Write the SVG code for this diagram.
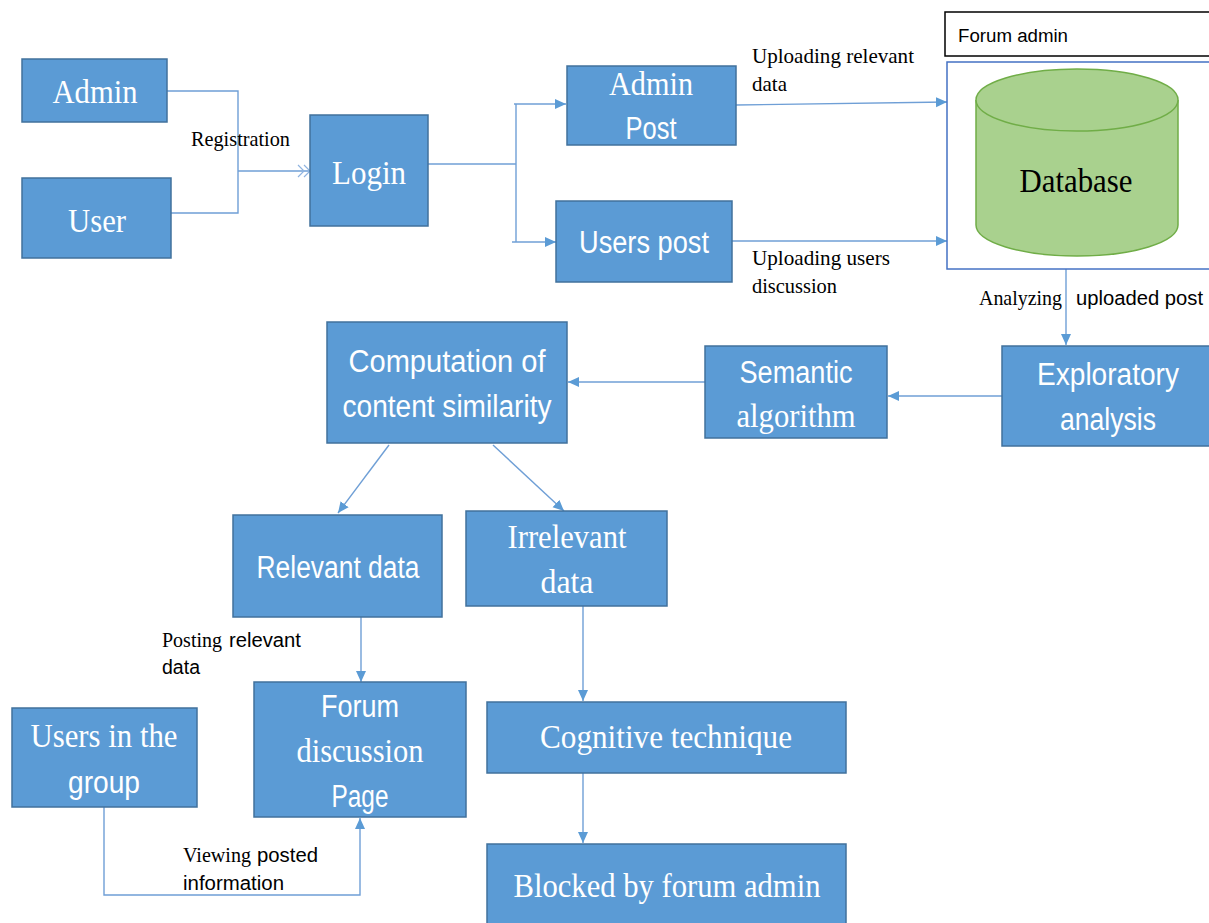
<svg xmlns="http://www.w3.org/2000/svg" width="1209" height="923" viewBox="0 0 1209 923">
<style>
.box{fill:#5B9BD5;stroke:#41719C;stroke-width:1.5}
.ser{font-family:"Liberation Serif","Times New Roman",serif}
.san{font-family:"Liberation Sans",Arial,sans-serif}
.wl{fill:#ffffff;font-size:31px;text-anchor:middle}
.ser.wl{font-size:33px}
.bl{fill:#000000;font-size:20px}
.ser.bl{font-size:21px}
.con{fill:none;stroke:#6F9FD6;stroke-width:1.4}
</style>
<defs>
<marker id="ah" markerUnits="userSpaceOnUse" markerWidth="12" markerHeight="12" refX="11" refY="6" orient="auto">
<path d="M0,1 L11,6 L0,11 z" fill="#5B9BD5"/>
</marker>
<marker id="ch" markerUnits="userSpaceOnUse" markerWidth="16" markerHeight="14" refX="14" refY="7" orient="auto">
<path d="M2,1 L8,7 L2,13 M8,1 L14,7 L8,13" fill="none" stroke="#8FB3E0" stroke-width="1.2"/>
</marker>
</defs>
<rect width="1209" height="923" fill="#ffffff"/>

<g id="connectors">
<path class="con" d="M167,91 H238 V171"/>
<path class="con" d="M171,213 H238 V171"/>
<path class="con" d="M238,171 H310" marker-end="url(#ch)"/>
<path class="con" d="M428,164 H516"/>
<path class="con" d="M516,104 V242"/>
<path class="con" d="M514,104 H566" marker-end="url(#ah)"/>
<path class="con" d="M512,242 H556" marker-end="url(#ah)"/>
<path class="con" d="M736,105 L947,102" marker-end="url(#ah)"/>
<path class="con" d="M732,241 H947" marker-end="url(#ah)"/>
<path class="con" d="M1066,256 V345" marker-end="url(#ah)"/>
<path class="con" d="M1002,396 H888" marker-end="url(#ah)"/>
<path class="con" d="M705,382 H568" marker-end="url(#ah)"/>
<path class="con" d="M389,445 L338,513" marker-end="url(#ah)"/>
<path class="con" d="M493,445 L564,511" marker-end="url(#ah)"/>
<path class="con" d="M361,617 V682" marker-end="url(#ah)"/>
<path class="con" d="M583,606 V701" marker-end="url(#ah)"/>
<path class="con" d="M583,773 V843" marker-end="url(#ah)"/>
<path class="con" d="M104,807 V895 H360 V818" marker-end="url(#ah)"/>
</g>

<g id="labels">
<text class="ser bl" x="191" y="146" textLength="99" lengthAdjust="spacingAndGlyphs">Registration</text>
<text class="ser bl" x="752" y="63" textLength="162" lengthAdjust="spacingAndGlyphs">Uploading  relevant</text>
<text class="ser bl" x="752" y="91">data</text>
<text class="ser bl" x="752" y="265" textLength="138" lengthAdjust="spacingAndGlyphs">Uploading  users</text>
<text class="ser bl" x="752" y="293" textLength="85" lengthAdjust="spacingAndGlyphs">discussion</text>
<text class="ser bl" x="979" y="305" textLength="83" lengthAdjust="spacingAndGlyphs">Analyzing</text>
<text class="san bl" x="1076" y="305" textLength="127" lengthAdjust="spacingAndGlyphs">uploaded post</text>
<text class="ser bl" x="162" y="647" textLength="60" lengthAdjust="spacingAndGlyphs">Posting</text>
<text class="san bl" x="229" y="647" textLength="72" lengthAdjust="spacingAndGlyphs">relevant</text>
<text class="san bl" x="162" y="674" textLength="38" lengthAdjust="spacingAndGlyphs">data</text>
<text class="ser bl" x="183" y="862" textLength="68" lengthAdjust="spacingAndGlyphs">Viewing</text>
<text class="san bl" x="257" y="862" textLength="61" lengthAdjust="spacingAndGlyphs">posted</text>
<text class="san bl" x="183" y="890" textLength="101" lengthAdjust="spacingAndGlyphs">information</text>
</g>

<g id="admin">
<rect class="box" x="22" y="59" width="145" height="63"/>
<text class="ser wl" x="95" y="103" textLength="85" lengthAdjust="spacingAndGlyphs">Admin</text>
</g>
<g id="user">
<rect class="box" x="22" y="178" width="149" height="80"/>
<text class="ser wl" x="97" y="232" textLength="58" lengthAdjust="spacingAndGlyphs">User</text>
</g>
<g id="login">
<rect class="box" x="310" y="115" width="118" height="111"/>
<text class="ser wl" x="369" y="184" textLength="74" lengthAdjust="spacingAndGlyphs">Login</text>
</g>
<g id="admin-post">
<rect class="box" x="567" y="66" width="169" height="79"/>
<text class="ser wl" x="651" y="95" textLength="84" lengthAdjust="spacingAndGlyphs">Admin</text>
<text class="san wl" x="651" y="139" textLength="51" lengthAdjust="spacingAndGlyphs">Post</text>
</g>
<g id="users-post">
<rect class="box" x="556" y="201" width="176" height="81"/>
<text class="san wl" x="644" y="253" textLength="130" lengthAdjust="spacingAndGlyphs">Users post</text>
</g>
<g id="forum-admin">
<rect x="945" y="12" width="270" height="44" fill="#ffffff" stroke="#000000" stroke-width="1.5"/>
<text class="san" x="958" y="42" font-size="18" fill="#000000" textLength="110" lengthAdjust="spacingAndGlyphs">Forum admin</text>
</g>
<g id="database">
<rect x="947" y="62" width="270" height="207" fill="#ffffff" stroke="#4472C4" stroke-width="1.5"/>
<path d="M976,100 V225 A101,31 0 0 0 1178,225 V100" fill="#A9D18E" stroke="#70AD47" stroke-width="1.5"/>
<ellipse cx="1077" cy="100" rx="101" ry="31" fill="#A9D18E" stroke="#70AD47" stroke-width="1.5"/>
<text class="ser" x="1076" y="192" font-size="33" fill="#000000" text-anchor="middle" textLength="113" lengthAdjust="spacingAndGlyphs">Database</text>
</g>
<g id="exploratory">
<rect class="box" x="1002" y="346" width="215" height="100"/>
<text class="san wl" x="1108" y="385" textLength="142" lengthAdjust="spacingAndGlyphs">Exploratory</text>
<text class="san wl" x="1108" y="430" textLength="96" lengthAdjust="spacingAndGlyphs">analysis</text>
</g>
<g id="semantic">
<rect class="box" x="705" y="346" width="182" height="92"/>
<text class="san wl" x="796" y="383" textLength="113" lengthAdjust="spacingAndGlyphs">Semantic</text>
<text class="ser wl" x="796" y="427" textLength="119" lengthAdjust="spacingAndGlyphs">algorithm</text>
</g>
<g id="computation">
<rect class="box" x="327" y="322" width="240" height="121"/>
<text class="san wl" x="447" y="372" textLength="197" lengthAdjust="spacingAndGlyphs">Computation of</text>
<text class="san wl" x="447" y="417" textLength="209" lengthAdjust="spacingAndGlyphs">content similarity</text>
</g>
<g id="relevant">
<rect class="box" x="233" y="515" width="209" height="102"/>
<text class="san wl" x="338" y="578" textLength="163" lengthAdjust="spacingAndGlyphs">Relevant data</text>
</g>
<g id="irrelevant">
<rect class="box" x="466" y="511" width="201" height="95"/>
<text class="ser wl" x="567" y="548" textLength="119" lengthAdjust="spacingAndGlyphs">Irrelevant</text>
<text class="ser wl" x="567" y="593" textLength="53" lengthAdjust="spacingAndGlyphs">data</text>
</g>
<g id="forum-page">
<rect class="box" x="254" y="682" width="212" height="135"/>
<text class="san wl" x="360" y="717" textLength="78" lengthAdjust="spacingAndGlyphs">Forum</text>
<text class="ser wl" x="360" y="762" textLength="127" lengthAdjust="spacingAndGlyphs">discussion</text>
<text class="san wl" x="360" y="807" textLength="57" lengthAdjust="spacingAndGlyphs">Page</text>
</g>
<g id="users-group">
<rect class="box" x="12" y="708" width="185" height="99"/>
<text class="ser wl" x="104" y="747" textLength="147" lengthAdjust="spacingAndGlyphs">Users in the</text>
<text class="san wl" x="104" y="793" textLength="72" lengthAdjust="spacingAndGlyphs">group</text>
</g>
<g id="cognitive">
<rect class="box" x="487" y="702" width="359" height="71"/>
<text class="ser wl" x="666" y="748" textLength="252" lengthAdjust="spacingAndGlyphs">Cognitive technique</text>
</g>
<g id="blocked">
<rect class="box" x="487" y="844" width="359" height="90"/>
<text class="ser wl" x="667" y="897" textLength="307" lengthAdjust="spacingAndGlyphs">Blocked by forum admin</text>
</g>
</svg>
